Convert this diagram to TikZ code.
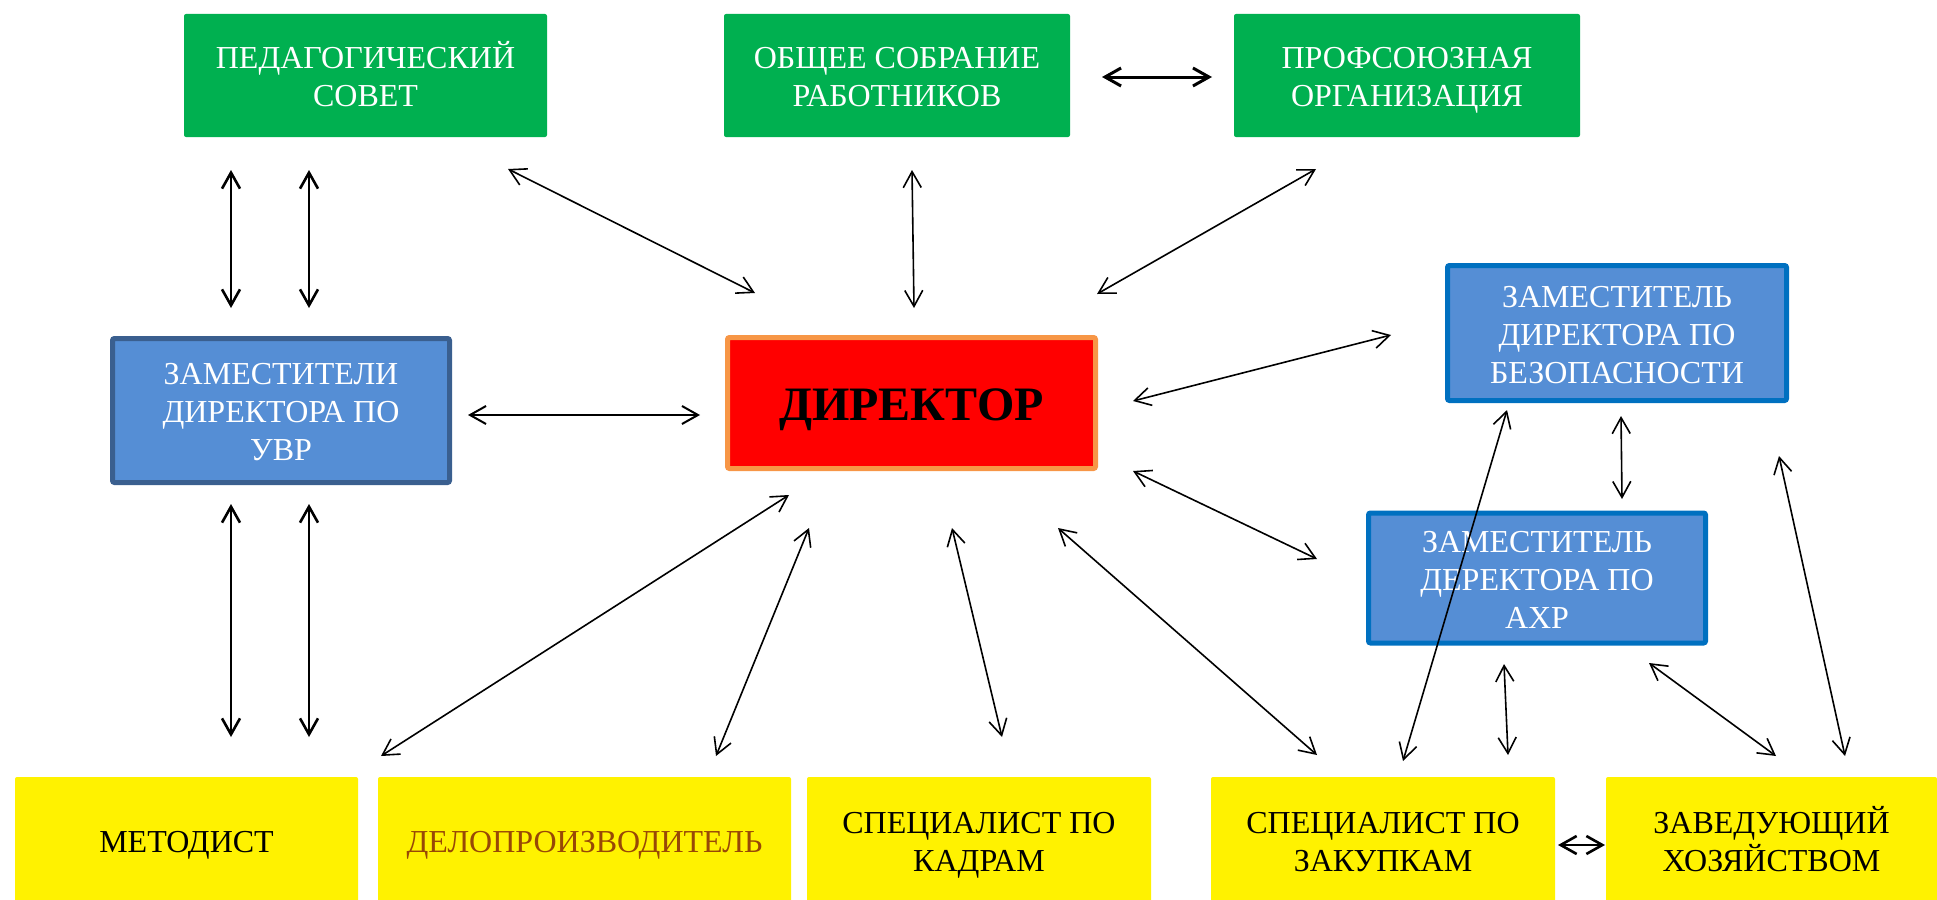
\documentclass[tikz,border=0pt]{standalone}
\usepackage{fontspec}
\setmainfont{Liberation Serif}
\usetikzlibrary{arrows.meta}

\definecolor{zelen}{HTML}{00B050}
\definecolor{sinij}{HTML}{558ED5}
\definecolor{ramkaA}{HTML}{3A5F8F}
\definecolor{ramkaB}{HTML}{0070C0}
\definecolor{oranzh}{HTML}{F79646}
\definecolor{korich}{HTML}{984806}

\tikzset{
	toppad/.style={execute at begin node={\rule{0pt}{#1}}},
	box/.style={rectangle, rounded corners=2pt, align=center, inner sep=0pt,
		font=\fontsize{32}{38}\selectfont, toppad=32pt,
		execute at end node={\rule[-8pt]{0pt}{8pt}}},
	greenbox/.style={box, fill=zelen, text=white, minimum width=346pt, minimum height=123pt, toppad=70pt},
	bluebox/.style={box, fill=sinij, text=white, line width=5pt, minimum width=337pt, toppad=108pt},
	yellowbox/.style={box, fill=yellow, minimum width=344pt, minimum height=126pt},
	twolines/.style={toppad=70pt},
	link/.style={{Straight Barb[length=16pt,width=18pt]}-{Straight Barb[length=16pt,width=18pt]}, line width=1.6pt},
	thicklink/.style={link, line width=2.6pt}
}

\begin{document}
\begin{tikzpicture}[x=1pt, y=-1pt]
			\useasboundingbox (0,0) rectangle (1937,899);
			% top row
			\node[greenbox, minimum width=363pt] (ped) at (365.5,75.5) {ПЕДАГОГИЧЕСКИЙ\\СОВЕТ};
			\node[greenbox] (sobr) at (897,75.5) {ОБЩЕЕ СОБРАНИЕ\\РАБОТНИКОВ};
			\node[greenbox] (prof) at (1407,75.5) {ПРОФСОЮЗНАЯ\\ОРГАНИЗАЦИЯ};
			% middle
			\node[bluebox, draw=ramkaA, minimum height=144pt, toppad=106pt] (uvr) at (281,410.5) {ЗАМЕСТИТЕЛИ\\ДИРЕКТОРА ПО\\УВР};
			\node[box, fill=red, draw=oranzh, line width=5pt, minimum width=368pt, minimum height=131pt,
				font=\fontsize{48}{56}\selectfont\bfseries, toppad=46pt] (dir) at (911.5,403) {ДИРЕКТОР};
			\node[bluebox, draw=ramkaB, minimum width=339pt, minimum height=135pt] (bez) at (1617,333) {ЗАМЕСТИТЕЛЬ\\ДИРЕКТОРА ПО\\БЕЗОПАСНОСТИ};
			\node[bluebox, draw=ramkaB, minimum height=130pt] (axr) at (1537,578) {ЗАМЕСТИТЕЛЬ\\ДЕРЕКТОРА ПО\\АХР};
			% bottom row
			\node[yellowbox, minimum width=343pt] (met) at (186.5,840) {МЕТОДИСТ};
			\node[yellowbox, minimum width=413pt, text=korich] (delo) at (584.5,840) {ДЕЛОПРОИЗВОДИТЕЛЬ};
			\node[yellowbox, twolines] (kadr) at (979,840) {СПЕЦИАЛИСТ ПО\\КАДРАМ};
			\node[yellowbox, twolines] (zak) at (1383,840) {СПЕЦИАЛИСТ ПО\\ЗАКУПКАМ};
			\node[yellowbox, twolines, minimum width=331pt] (zav) at (1771.5,840) {ЗАВЕДУЮЩИЙ\\ХОЗЯЙСТВОМ};
			% arrow ends
			\coordinate (P1) at (231,170);
			\coordinate (P2) at (309,170);
			\coordinate (U1) at (231,308);
			\coordinate (U2) at (309,308);
			\coordinate (U3) at (231,504);
			\coordinate (U4) at (309,504);
			\coordinate (M1) at (231,737);
			\coordinate (M2) at (309,737);
			\coordinate (P3) at (508,169);
			\coordinate (D1) at (755,293);
			\coordinate (S1) at (912,170);
			\coordinate (D2) at (914,308);
			\coordinate (S2) at (1102,77);
			\coordinate (R1) at (1212,77);
			\coordinate (R2) at (1316,169);
			\coordinate (D3) at (1097,294);
			\coordinate (U5) at (468,415);
			\coordinate (D4) at (700,415);
			\coordinate (D5) at (1133,401);
			\coordinate (B1) at (1391,335);
			\coordinate (D6) at (1133,471);
			\coordinate (A1) at (1317,559);
			\coordinate (D7) at (789,495);
			\coordinate (L1) at (381,756);
			\coordinate (D8) at (809,528);
			\coordinate (L2) at (716,756);
			\coordinate (D9) at (952,528);
			\coordinate (K1) at (1002,737);
			\coordinate (D10) at (1058,528);
			\coordinate (Z1) at (1317,755);
			\coordinate (B2) at (1507,410);
			\coordinate (Z2) at (1403,761);
			\coordinate (B3) at (1621,416);
			\coordinate (A2) at (1622,499);
			\coordinate (B4) at (1779,456);
			\coordinate (H1) at (1845,756);
			\coordinate (A3) at (1504,664);
			\coordinate (Z3) at (1508,755);
			\coordinate (A4) at (1649,663);
			\coordinate (H2) at (1776,756);
			\coordinate (Z4) at (1558,845);
			\coordinate (H3) at (1605,845);
			% connectors
			\draw[thicklink] (P1) -- (U1);
			\draw[thicklink] (P2) -- (U2);
			\draw[thicklink] (U3) -- (M1);
			\draw[thicklink] (U4) -- (M2);
			\draw[link] (P3) -- (D1);
			\draw[link] (S1) -- (D2);
			\draw[thicklink, line width=3pt] (S2) -- (R1);
			\draw[link] (R2) -- (D3);
			\draw[link, line width=2pt] (U5) -- (D4);
			\draw[link] (D5) -- (B1);
			\draw[link] (D6) -- (A1);
			\draw[link] (D7) -- (L1);
			\draw[link] (D8) -- (L2);
			\draw[link] (D9) -- (K1);
			\draw[link] (D10) -- (Z1);
			\draw[link] (B2) -- (Z2);
			\draw[link] (B3) -- (A2);
			\draw[link] (B4) -- (H1);
			\draw[link] (A3) -- (Z3);
			\draw[link] (A4) -- (H2);
			\draw[thicklink] (Z4) -- (H3);
			\end{tikzpicture}
\end{document}
